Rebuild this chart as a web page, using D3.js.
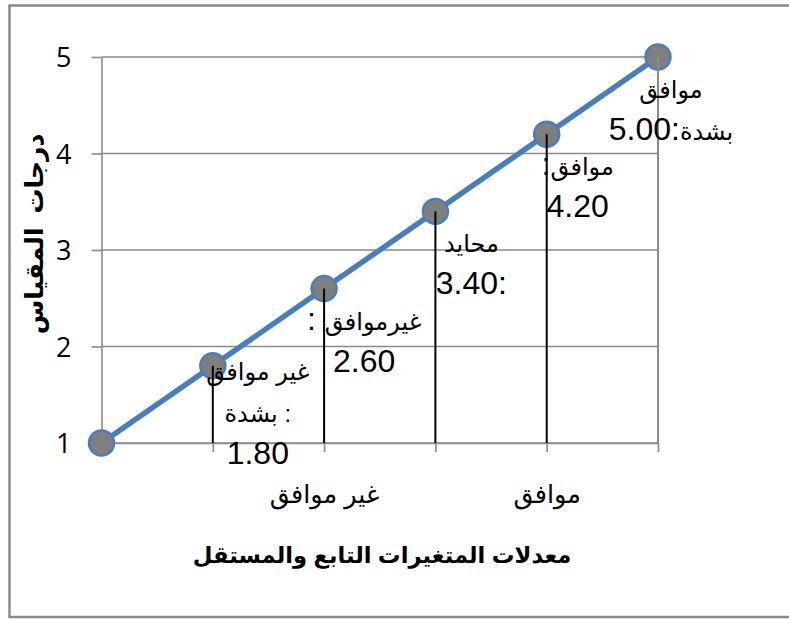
<!DOCTYPE html>
<html><head><meta charset="utf-8">
<script src="https://cdn.jsdelivr.net/npm/d3@7"></script>
<style>body{margin:0;background:#fff;overflow:hidden} svg{display:block}</style>
</head><body>
<svg id="c" width="789" height="619"></svg>
<script>
// ---- data ----
const categories = ["", "غير موافق بشدة", "غير موافق", "محايد", "موافق", "موافق بشدة"];
const values = [1.0, 1.8, 2.6, 3.4, 4.2, 5.0];
const yTicks = [1, 2, 3, 4, 5];
const dataLabels = [
  [],
  ["غير موافق", "بشدة :", "1.80"],
  [": غيرموافق", "2.60"],
  ["محايد", "3.40:"],
  [":موافق", "4.20"],
  ["موافق", "بشدة:5.00"]
];
const xTitle = "معدلات المتغيرات التابع والمستقل";
const yTitle = "درجات  المقياس";

// ---- layout ----
const svg = d3.select("#c");
const L = 101.5, R = 658, T = 57, B = 443;
const x = d3.scalePoint().domain(categories).range([L, R]);
const y = d3.scaleLinear().domain([1, 5]).range([B, T]);
const grid = "#8a8a8a";
const font = "'Liberation Sans', 'DejaVu Sans', Arial, sans-serif";

// outer border
svg.append("rect").attr("x", 9.5).attr("y", 5.5).attr("width", 800).attr("height", 611.5)
  .attr("fill", "#fff").attr("stroke", grid).attr("stroke-width", 2.5);

// horizontal gridlines
svg.append("g").selectAll("line").data(yTicks).join("line")
  .attr("x1", L).attr("x2", R).attr("y1", d => y(d)).attr("y2", d => y(d))
  .attr("stroke", grid).attr("stroke-width", 1.6);

// y axis
const gy = svg.append("g").attr("transform", `translate(${L},0)`)
  .call(d3.axisLeft(y).tickValues(yTicks).tickSize(10).tickSizeOuter(0).tickPadding(20).tickFormat(d3.format("d")));
gy.select(".domain").attr("stroke", grid).attr("stroke-width", 1.6);
gy.selectAll(".tick line").attr("stroke", grid).attr("stroke-width", 1.6);
gy.selectAll(".tick text").attr("font-family", "'Open Sans', 'Liberation Sans', sans-serif")
  .attr("font-size", 27).attr("fill", "#000").attr("dy", "0.36em");

// x axis
const gx = svg.append("g").attr("transform", `translate(0,${B})`)
  .call(d3.axisBottom(x).tickSize(9).tickSizeOuter(0).tickPadding(0)
    .tickFormat((d, i) => (i % 2 === 0 ? d : "")));
gx.select(".domain").attr("stroke", grid).attr("stroke-width", 1.6);
gx.selectAll(".tick line").attr("stroke", grid).attr("stroke-width", 1.6);
gx.selectAll(".tick text").attr("font-family", font).attr("font-size", 25.5)
  .attr("fill", "#000").attr("dy", 0).attr("y", 60);

// right plot edge line
svg.append("line").attr("x1", R).attr("x2", R).attr("y1", T).attr("y2", B)
  .attr("stroke", grid).attr("stroke-width", 1.6);

// series line
const pts = values.map((v, i) => [x(categories[i]), y(v)]);
svg.append("path").datum(pts).attr("d", d3.line())
  .attr("fill", "none").attr("stroke", "#4a7ebb").attr("stroke-width", 5.5)
  .attr("stroke-linejoin", "round");

// markers
svg.append("g").selectAll("circle").data(pts).join("circle")
  .attr("cx", d => d[0]).attr("cy", d => d[1]).attr("r", 12.5)
  .attr("fill", "#7f7f7f").attr("stroke", "#4a7ebb").attr("stroke-width", 2.5);

// drop lines
svg.append("g").selectAll("line").data(pts.slice(1)).join("line")
  .attr("x1", d => d[0]).attr("x2", d => d[0]).attr("y1", d => d[1]).attr("y2", B)
  .attr("stroke", (d, i) => (i === pts.length - 2 ? grid : "#000")).attr("stroke-width", 2);

// data labels
const labelDx = [0, 45, 40, 36, 31, 13];
const arabicRe = /([\u0600-\u06FF]+(?: [\u0600-\u06FF]+)*(?: :$)?)/;
const gl = svg.append("g");
dataLabels.forEach((lines, i) => {
  if (!lines.length) return;
  const [px, py] = pts[i];
  const n = lines.length;
  const last = py + 53 + 15 * n;
  lines.forEach((line, k) => {
    const t = gl.append("text").attr("x", px + labelDx[i]).attr("y", last - (n - 1 - k) * 42)
      .attr("text-anchor", "middle").attr("font-family", font).attr("fill", "#000")
      .style("white-space", "pre");
    line.split(arabicRe).filter(s => s.length).forEach(part => {
      const isAr = /[\u0600-\u06FF]/.test(part);
      t.append("tspan").attr("font-size", isAr ? 24 : 32).text(part);
    });
  });
});

// axis titles
svg.append("text").attr("x", 382).attr("y", 563).attr("text-anchor", "middle")
  .attr("font-family", font).attr("font-weight", "bold").attr("font-size", 22.7).attr("fill", "#000")
  .text(xTitle);
svg.append("text").attr("transform", `translate(43,234) rotate(-90)`).attr("text-anchor", "middle")
  .attr("font-family", font).attr("font-weight", "bold").attr("font-size", 25).attr("fill", "#000")
  .style("white-space", "pre")
  .text(yTitle);
</script>
</body></html>
